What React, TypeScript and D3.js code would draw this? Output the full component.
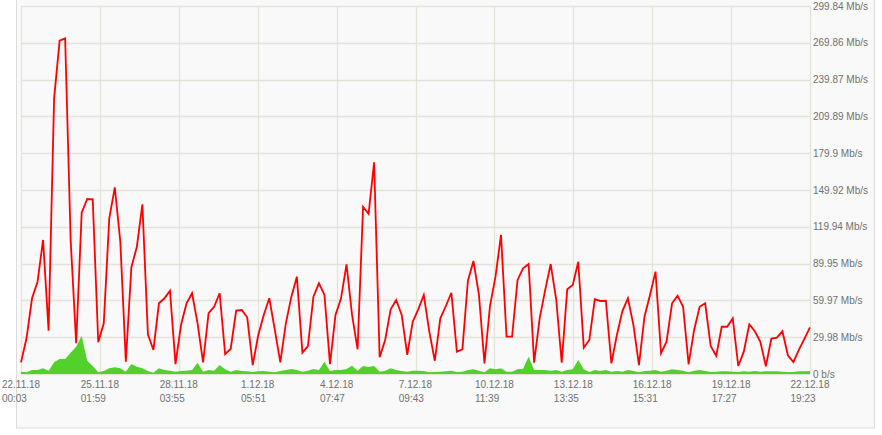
import React, { useLayoutEffect, useRef, useState } from "react";
import * as d3 from "d3";

// Outbound traffic (red line), Mb/s
const outValues: number[] = [
  9.5, 29.1, 61.7, 75.2, 109.2, 35.3, 224.6, 271.6, 273.5, 109.2,
  25.0, 131.4, 142.6, 142.3, 25.8, 41.3, 126.9, 152.1, 107.8, 10.0,
  86.9, 103.7, 138.3, 32.3, 19.6, 57.6, 61.7, 67.9, 8.1, 39.9,
  57.6, 65.8, 41.3, 9.5, 49.5, 54.8, 65.8, 16.3, 20.4, 51.6,
  52.1, 46.2, 7.3, 31.8, 48.1, 61.7, 35.9, 9.5, 41.3, 63.0,
  79.3, 17.4, 22.8, 63.0, 73.9, 64.4, 8.1, 48.1, 61.7, 89.4,
  48.1, 20.1, 136.3, 130.4, 172.5, 13.6, 27.7, 52.7, 60.3, 48.1,
  15.5, 42.6, 52.7, 64.4, 34.5, 10.8, 45.4, 55.4, 66.2, 18.2,
  20.1, 76.0, 92.1, 64.4, 8.7, 55.4, 79.3, 113.3, 30.4, 30.4,
  76.6, 86.1, 89.6, 9.2, 45.4, 68.4, 89.6, 60.9, 9.2, 69.0,
  72.5, 91.5, 21.4, 27.7, 60.9, 59.5, 59.7, 8.7, 31.8, 51.3,
  61.7, 39.9, 7.3, 46.7, 64.4, 83.4, 16.9, 26.3, 57.6, 63.8,
  54.8, 7.9, 35.9, 54.8, 57.6, 22.8, 14.7, 38.5, 38.5, 45.4,
  6.5, 18.2, 40.5, 34.8, 26.3, 6.3, 28.8, 29.6, 34.8, 15.1,
  9.8, 19.8, 28.9, 38.0,
];

// Inbound traffic (green area), Mb/s
const inValues: number[] = [
  1.9, 1.4, 3.3, 3.3, 4.6, 2.7, 9.5, 12.2, 12.2, 17.4,
  22.2, 31.2, 10.8, 6.5, 1.4, 2.4, 4.6, 5.5, 4.6, 1.9,
  8.1, 5.9, 4.6, 2.4, 1.1, 4.6, 3.3, 2.7, 1.9, 2.4,
  2.7, 3.3, 9.2, 1.9, 3.3, 2.7, 7.3, 3.8, 1.9, 3.3,
  2.4, 2.2, 1.6, 2.2, 2.4, 1.9, 1.4, 2.4, 3.3, 4.1,
  3.3, 1.9, 2.7, 4.1, 3.3, 10.0, 2.4, 3.3, 3.3, 4.0,
  6.8, 2.7, 6.5, 5.7, 6.5, 1.9, 2.7, 4.6, 3.3, 2.4,
  1.9, 2.7, 2.7, 2.4, 1.4, 1.6, 1.9, 2.2, 2.7, 1.6,
  1.9, 3.3, 3.8, 2.7, 1.4, 4.6, 3.8, 4.6, 1.9, 1.9,
  3.8, 4.3, 14.1, 3.3, 3.3, 3.3, 2.7, 3.3, 1.9, 3.3,
  3.8, 11.4, 3.8, 1.6, 3.3, 2.4, 3.3, 1.9, 2.4, 1.9,
  3.3, 2.4, 1.4, 2.4, 2.7, 3.3, 1.9, 2.7, 3.8, 3.3,
  2.7, 1.4, 2.7, 3.3, 2.4, 1.6, 1.9, 2.2, 2.2, 1.9,
  1.6, 2.2, 1.9, 2.4, 1.9, 2.2, 2.2, 2.2, 1.9, 1.6,
  1.6, 2.2, 2.2, 2.4,
];

// Time range covered by the samples
const timeStart = new Date(2018, 10, 22, 0, 3);
const timeEnd = new Date(2018, 11, 22, 19, 23);

// X tick labels (date line, time line)
const xTickDates: string[] = [
  "22.11.18", "25.11.18", "28.11.18", "1.12.18", "4.12.18", "7.12.18",
  "10.12.18", "13.12.18", "16.12.18", "19.12.18", "22.12.18",
];
const xTickTimes: string[] = [
  "00:03", "01:59", "03:55", "05:51", "07:47", "09:43",
  "11:39", "13:35", "15:31", "17:27", "19:23",
];

// Y ticks (Mb/s) and labels
const yTickValues: number[] = [0, 29.984, 59.968, 89.952, 119.936, 149.92, 179.904, 209.888, 239.872, 269.856, 299.84];
const yTickLabels: string[] = [
  "0 b/s", "29.98 Mb/s", "59.97 Mb/s", "89.95 Mb/s", "119.94 Mb/s", "149.92 Mb/s",
  "179.9 Mb/s", "209.89 Mb/s", "239.87 Mb/s", "269.86 Mb/s", "299.84 Mb/s",
];

const W = 882;
const H = 435;
const PLOT = { left: 21, right: 810, top: 6, bottom: 374 };
const FONT = "'Liberation Sans', Arial, Helvetica, sans-serif";
const TEXT = "#707070";
const GRID = "#e4e3da";

function parseTick(d: string, t: string): Date {
  const [dd, mm, yy] = d.split(".").map(Number);
  const [hh, mi] = t.split(":").map(Number);
  return new Date(2000 + yy, mm - 1, dd, hh, mi);
}

export default function App() {
  const n = outValues.length;
  const x = d3.scaleTime().domain([timeStart, timeEnd]).range([PLOT.left, PLOT.right]);
  const y = d3.scaleLinear().domain([0, 299.84]).range([PLOT.bottom, PLOT.top]);
  const step = (timeEnd.getTime() - timeStart.getTime()) / (n - 1);
  const times = outValues.map((_, i) => new Date(timeStart.getTime() + i * step));

  const line = d3
    .line<number>()
    .x((_, i) => x(times[i]))
    .y((d) => y(d));
  const area = d3
    .area<number>()
    .x((_, i) => x(times[i]))
    .y0(y(0))
    .y1((d) => y(d));

  const tickDates = xTickDates.map((d, i) => parseTick(d, xTickTimes[i]));

  const dateRefs = useRef<(SVGTextElement | null)[]>([]);
  const [widths, setWidths] = useState<number[]>([]);
  useLayoutEffect(() => {
    setWidths(dateRefs.current.map((el) => (el ? el.getComputedTextLength() : 0)));
  }, []);

  return (
    <svg
      width={W}
      height={H}
      style={{ position: "absolute", left: 0, top: 0, background: "#ffffff" }}
    >
      <rect x={16.5} y={-5} width={858} height={433} fill="#f9f9f9" stroke="#dcdcdc" strokeWidth={1} />
      {/* horizontal grid */}
      {yTickValues.map((v, i) => (
        <line
          key={"h" + i}
          x1={PLOT.left}
          x2={PLOT.right}
          y1={Math.round(y(v)) + 0.5}
          y2={Math.round(y(v)) + 0.5}
          stroke={GRID}
          strokeWidth={1.3}
        />
      ))}
      {/* vertical grid */}
      {tickDates.map((d, i) => (
        <line
          key={"v" + i}
          x1={Math.round(x(d)) + 0.5}
          x2={Math.round(x(d)) + 0.5}
          y1={PLOT.top}
          y2={PLOT.bottom}
          stroke={GRID}
          strokeWidth={1.3}
        />
      ))}
      <path d={area(inValues) || ""} fill="#52d12b" stroke="none" />
      <path d={line(outValues) || ""} fill="none" stroke="#ff0000" strokeWidth={1.8} strokeLinejoin="miter" />
      {/* y labels */}
      {yTickValues.map((v, i) => (
        <text
          key={"yl" + i}
          x={PLOT.right + 3}
          y={y(v)}
          dy="0.35em"
          fontFamily={FONT}
          fontSize={10}
          fill={TEXT}
        >
          {yTickLabels[i]}
        </text>
      ))}
      {/* x labels */}
      {tickDates.map((d, i) => {
        const cx = x(d);
        const w = widths[i] || 0;
        return (
          <g key={"xl" + i}>
            <text
              ref={(el) => {
                dateRefs.current[i] = el;
              }}
              x={cx}
              y={388}
              textAnchor="middle"
              fontFamily={FONT}
              fontSize={10}
              fill={TEXT}
            >
              {xTickDates[i]}
            </text>
            <text x={cx - w / 2} y={402} fontFamily={FONT} fontSize={10} fill={TEXT}>
              {xTickTimes[i]}
            </text>
          </g>
        );
      })}
    </svg>
  );
}
